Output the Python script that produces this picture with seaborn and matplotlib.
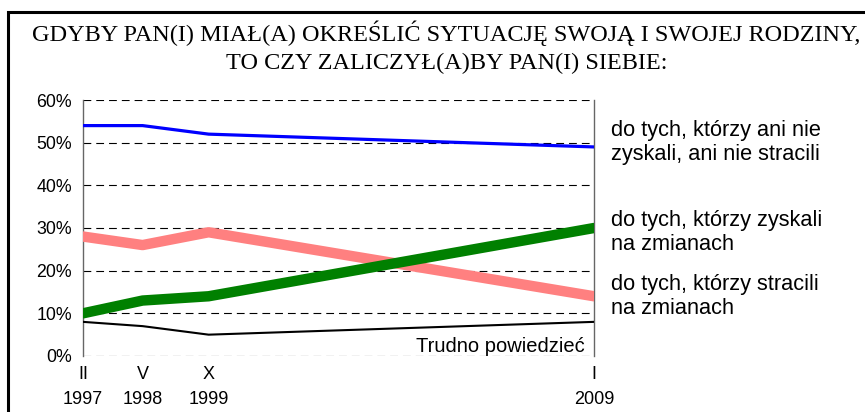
import matplotlib
matplotlib.use("Agg")
import matplotlib.pyplot as plt
import seaborn as sns
from matplotlib.patches import Rectangle
from matplotlib.ticker import FuncFormatter

# Survey waves (month in Roman numerals, year) and their spacing on the chart
survey_months = ["II", "V", "X", "I"]
survey_years = ["1997", "1998", "1999", "2009"]
survey_pos = [0, 1.4, 2.95, 12]

# Answers in percent
neither = [54, 54, 52, 49]
lost = [28, 26, 29, 14]
gained = [10, 13, 14, 30]
hard_to_say = [8, 7, 5, 8]

label_neither = "do tych, którzy ani nie\nzyskali, ani nie stracili"
label_gained = "do tych, którzy zyskali\nna zmianach"
label_lost = "do tych, którzy stracili\nna zmianach"
label_hard = "Trudno powiedzieć"

title = ("GDYBY PAN(I) MIAŁ(A) OKREŚLIĆ SYTUACJĘ SWOJĄ I SWOJEJ RODZINY,\n"
         "TO CZY ZALICZYŁ(A)BY PAN(I) SIEBIE:")

sns.set_style("white")
plt.rcParams['font.family'] = ['Liberation Sans', 'DejaVu Sans']
plt.rcParams['text.color'] = 'black'
plt.rcParams['xtick.color'] = 'black'
plt.rcParams['ytick.color'] = 'black'

fig = plt.figure(figsize=(8.65, 4.12), dpi=100)
ax = fig.add_axes([83 / 865, 1 - 356 / 412, 511 / 865, 256 / 412])

# series: values, colour, width, label, label y-offset (pt)
series = [
    (neither, "#0000ff", 2.3, label_neither, 3),
    (lost, "#ff8080", 7.5, label_lost, 0),
    (gained, "#008000", 7.5, label_gained, -3),
]
for vals, col, lw, lab, dy in series:
    sns.lineplot(x=survey_pos, y=vals, color=col, linewidth=lw, ax=ax,
                 solid_capstyle="round", zorder=3)
    ax.annotate(lab, xy=(survey_pos[-1], vals[-1]), xytext=(12, dy),
                textcoords="offset points", ha="left", va="center",
                fontsize=15.7, linespacing=1.2, annotation_clip=False)

sns.lineplot(x=survey_pos, y=hard_to_say, color="black", linewidth=1.5, ax=ax, zorder=3)
ax.text(0.982, 0.016, label_hard, transform=ax.transAxes, ha="right",
        va="baseline", fontsize=14.5)

ax.set_xlim(survey_pos[0], survey_pos[-1])
ax.set_ylim(0, 60)
ax.set_yticks(range(0, 61, 10))
ax.yaxis.set_major_formatter(FuncFormatter(lambda v, p: f"{v:.0f}%"))
ax.set_xticks(survey_pos)
ax.set_xticklabels([f"{m}\n{y}" for m, y in zip(survey_months, survey_years)],
                   linespacing=1.65)
ax.tick_params(axis="y", length=0, pad=8, labelsize=12.8)
ax.tick_params(axis="x", length=0, pad=7, labelsize=13)

ax.yaxis.grid(True, color="black", linewidth=0.8, linestyle=(0, (7, 4.5)))
ax.set_axisbelow(True)
for s in ["top", "bottom"]:
    ax.spines[s].set_visible(False)
for s in ["left", "right"]:
    ax.spines[s].set_color("#666666")
    ax.spines[s].set_linewidth(1.0)

fig.text(0.516, 1 - 21 / 412, title, ha="center", va="top",
         family="Liberation Serif", fontsize=17.5, linespacing=1.38)

fig.add_artist(Rectangle((8 / 865, -0.2), 1.2, 1.2 - 12.5 / 412, fill=False,
                         edgecolor="black", linewidth=2.2,
                         transform=fig.transFigure))

fig.savefig("out.png", dpi=100)
